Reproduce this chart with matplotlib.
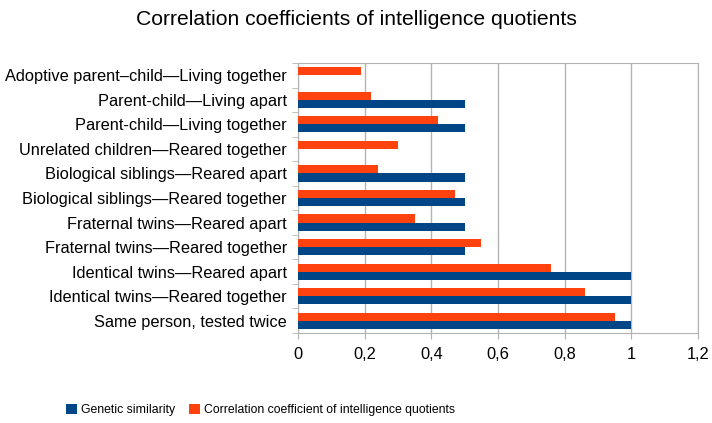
import numpy as np
import matplotlib.pyplot as plt

plt.rcParams['font.family'] = ['Liberation Sans', 'DejaVu Sans']

# Pairs, listed bottom to top
pairs = [
    'Same person, tested twice',
    'Identical twins\u2014Reared together',
    'Identical twins\u2014Reared apart',
    'Fraternal twins\u2014Reared together',
    'Fraternal twins\u2014Reared apart',
    'Biological siblings\u2014Reared together',
    'Biological siblings\u2014Reared apart',
    'Unrelated children\u2014Reared together',
    'Parent-child\u2014Living together',
    'Parent-child\u2014Living apart',
    'Adoptive parent\u2013child\u2014Living together',
]
genetic = [1.0, 1.0, 1.0, 0.5, 0.5, 0.5, 0.5, 0.0, 0.5, 0.5, 0.0]
iq_corr = [0.95, 0.86, 0.76, 0.55, 0.35, 0.47, 0.24, 0.30, 0.42, 0.22, 0.19]
x_ticks = [0, 0.2, 0.4, 0.6, 0.8, 1.0, 1.2]

blue = '#004586'
orange = '#ff420e'

fig = plt.figure(figsize=(7.12, 4.23), dpi=100)
ax = fig.add_axes([0.4185, 0.2128, 0.5618, 0.6383])

y = np.arange(len(pairs))
h = 0.33
ax.barh(y - h / 2, genetic, height=h, color=blue, label='Genetic similarity', zorder=3)
ax.barh(y + h / 2, iq_corr, height=h, color=orange,
        label='Correlation coefficient of intelligence quotients', zorder=3)

ax.set_xlim(0, 1.2)
ax.set_ylim(-0.5, len(pairs) - 0.5)
ax.set_xticks(x_ticks)
ax.set_xticklabels([('%g' % v).replace('.', ',') for v in x_ticks], fontsize=11.8)
ax.set_yticks(y)
ax.set_yticklabels(pairs, fontsize=11.8)
ax.set_yticks(np.arange(len(pairs) + 1) - 0.5, minor=True)
ax.tick_params(axis='y', which='major', length=0, pad=8)
ax.tick_params(axis='y', which='minor', length=4, color='#b3b3b3')
ax.tick_params(axis='x', length=4, color='#b3b3b3', pad=6)
ax.grid(True, axis='x', color='#b3b3b3', linewidth=1, zorder=0)
for s in ax.spines.values():
    s.set_color('#b3b3b3')

fig.text(0.5, 0.955, 'Correlation coefficients of intelligence quotients',
         ha='center', va='center', fontsize=15.2)

fig.legend(loc='center', bbox_to_anchor=(0.366, 0.03), ncol=2, frameon=False,
           fontsize=8.8, handlelength=0.9, handleheight=0.9, handletextpad=0.3,
           columnspacing=1.2)

plt.savefig('out.png', dpi=100)
